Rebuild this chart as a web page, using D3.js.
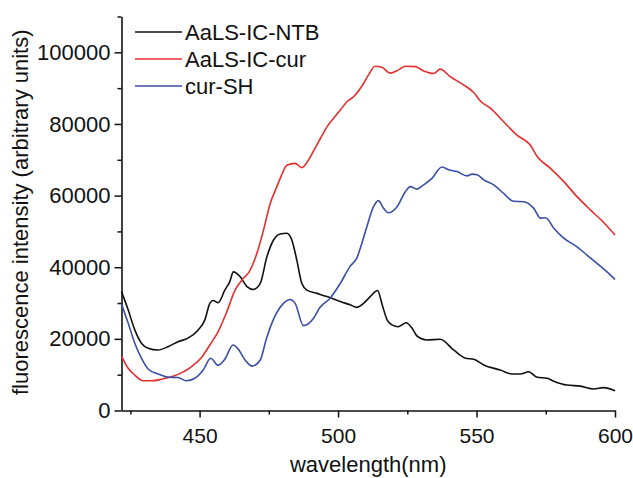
<!DOCTYPE html>
<html>
<head>
<meta charset="utf-8">
<script src="https://cdn.jsdelivr.net/npm/d3@7"></script>
<style>
  html, body { margin: 0; padding: 0; background: #fff; }
  svg { display: block; font-family: Arial, "Liberation Sans", sans-serif; }
</style>
</head>
<body>
<svg id="chart" width="633" height="478"></svg>
<script>
// ---- data (wavelength in nm, intensity in arbitrary units) ----
const seriesNames = ["AaLS-IC-NTB", "AaLS-IC-cur", "cur-SH"];
const seriesColors = ["#111111", "#e62e2d", "#3a4ea6"];

const ntbWavelength = [421.8,424.2,426.6,429.0,431.4,435.0,438.6,442.2,445.8,449.5,451.9,453.7,454.9,456.7,459.1,460.9,462.2,464.6,467.1,469.4,471.9,474.3,476.7,479.1,481.5,483.3,485.1,486.9,488.7,492.4,496.0,500.8,504.4,506.8,509.2,511.6,514.3,515.8,517.7,519.5,521.8,524.6,526.7,528.5,532.1,536.9,541.7,546.0,549.0,552.6,558.6,562.8,565.8,568.8,571.9,575.5,577.9,582.7,587.5,592.3,595.9,600.0];
const ntbIntensity = [33200,28100,22500,18800,17400,16900,17800,19200,20200,22500,25300,29900,30700,30100,33600,36000,38700,37400,34600,33800,35500,42900,47600,49300,49500,47600,42000,35500,33600,32700,31800,30400,29500,28800,29900,31800,33500,29900,25300,23900,23400,24500,23000,20800,19700,19900,16900,14600,14300,12700,11300,10200,10200,10800,9300,9000,8200,7100,6800,6000,6400,5500];

const curWavelength = [421.8,424.2,426.6,429.6,432.6,436.2,439.8,443.4,447.0,450.7,453.7,456.7,459.8,462.8,465.8,467.9,470.7,473.1,475.5,477.9,479.5,481.5,484.5,486.9,489.3,491.1,493.5,496.0,498.4,500.8,503.2,505.6,509.2,511.0,513.4,515.8,518.8,521.8,524.3,527.9,530.9,534.5,536.9,540.5,545.3,549.0,551.4,555.0,559.8,564.6,569.4,571.9,576.7,581.5,586.3,591.1,595.9,600.0];
const curIntensity = [15200,11800,9900,8300,8300,8700,9400,10500,12200,14800,18300,22000,27500,33600,36900,38700,43900,50400,57800,62500,65500,68500,69000,67800,69900,72400,75800,79200,81600,83900,86200,87600,91300,93700,96100,95800,94200,95100,96100,96000,94800,94100,95300,93200,90900,88800,86400,84400,80600,76900,74100,70900,67600,63900,59700,56000,52500,49000];

const shWavelength = [421.8,424.2,426.6,429.0,431.4,435.0,438.6,442.2,445.2,448.3,451.3,454.0,456.7,459.1,462.1,463.9,466.4,468.9,471.9,474.0,476.7,480.3,482.7,484.5,487.5,491.1,493.5,497.2,500.8,504.4,506.8,508.6,510.4,512.8,514.6,516.4,518.2,521.3,524.3,526.1,528.5,530.9,533.9,537.5,539.9,543.0,546.6,548.4,550.2,552.6,556.2,559.8,563.4,567.0,570.6,573.1,574.9,577.9,581.5,586.3,589.9,593.5,598.4,600.0];
const shIntensity = [29700,24400,18800,14600,11600,10200,9300,9200,8300,9000,11300,14600,12600,14300,18300,17200,14100,12400,14100,19700,25500,29900,31000,29900,23700,25700,28800,31400,35500,40300,42600,46700,51300,56900,58600,56500,55200,56900,61100,62500,61800,63000,64800,68000,67200,66700,65500,66000,65800,64400,63000,60600,58400,58300,56500,53700,53800,50900,48100,45700,43400,41100,37800,36600];

const xMajorTicks = [450, 500, 550, 600];
const xMinorTicks = [425, 475, 525, 575];
const yMajorTicks = [0, 20000, 40000, 60000, 80000, 100000];
const yMinorTicks = [10000, 30000, 50000, 70000, 90000, 110000];
const xTitle = "wavelength(nm)";
const yTitle = "fluorescence intensity (arbitrary units)";

// ---- drawing ----
const series = [
  { name: seriesNames[0], color: seriesColors[0], xs: ntbWavelength, ys: ntbIntensity },
  { name: seriesNames[1], color: seriesColors[1], xs: curWavelength, ys: curIntensity },
  { name: seriesNames[2], color: seriesColors[2], xs: shWavelength, ys: shIntensity }
];

const svg = d3.select("#chart");
const x = d3.scaleLinear().domain([421.8, 600]).range([121.5, 615]);
const y = d3.scaleLinear().domain([0, 110000]).range([410.5, 16.5]);

const fmt = d3.format("d");

// x axis
svg.append("g").attr("class", "xaxis").attr("transform", `translate(0,${y(0)})`)
  .call(d3.axisBottom(x).tickValues(xMajorTicks).tickSize(7).tickSizeOuter(0).tickPadding(11).tickFormat(fmt));
svg.append("g").attr("transform", `translate(0,${y(0)})`)
  .call(d3.axisBottom(x).tickValues(xMinorTicks).tickSize(4).tickSizeOuter(0).tickFormat(""))
  .select(".domain").remove();

// y axis
svg.append("g").attr("class", "yaxis").attr("transform", `translate(${x(421.8)},0)`)
  .call(d3.axisLeft(y).tickValues(yMajorTicks).tickSize(7).tickSizeOuter(0).tickPadding(4).tickFormat(fmt));
svg.append("g").attr("transform", `translate(${x(421.8)},0)`)
  .call(d3.axisLeft(y).tickValues(yMinorTicks).tickSize(4).tickSizeOuter(0).tickFormat(""))
  .select(".domain").remove();

svg.selectAll(".domain").attr("stroke", "#111").attr("stroke-width", 1.6);
svg.selectAll(".tick line").attr("stroke", "#111").attr("stroke-width", 1.5);
svg.selectAll(".tick text").attr("fill", "#111")
  .style("font-family", "Arial, 'Liberation Sans', sans-serif");
svg.selectAll(".xaxis .tick text").style("font-size", "21px");
svg.selectAll(".yaxis .tick text").style("font-size", "22px");

// lines
const line = d3.line().curve(d3.curveMonotoneX);
series.forEach(s => {
  const pts = s.xs.map((v, i) => [x(v), y(s.ys[i])]);
  svg.append("path").attr("d", line(pts))
    .attr("fill", "none").attr("stroke", s.color)
    .attr("stroke-width", 1.6).attr("stroke-linejoin", "round");
});

// legend
const leg = svg.append("g");
series.forEach((s, i) => {
  const ly = 32 + i * 27;
  leg.append("line").attr("x1", 135).attr("x2", 182).attr("y1", ly).attr("y2", ly)
    .attr("stroke", s.color).attr("stroke-width", 1.6);
  leg.append("text").attr("x", 185).attr("y", ly + 7.5)
    .style("font-size", "22px").attr("fill", "#111").text(s.name);
});

// axis titles
svg.append("text").attr("x", (121.5 + 615) / 2).attr("y", 472)
  .attr("text-anchor", "middle").style("font-size", "22px").attr("fill", "#111").text(xTitle);
svg.append("text").attr("transform", `translate(28,${(14 + 410.5) / 2}) rotate(-90)`)
  .attr("text-anchor", "middle").style("font-size", "22px").attr("fill", "#111").text(yTitle);
</script>
</body>
</html>
